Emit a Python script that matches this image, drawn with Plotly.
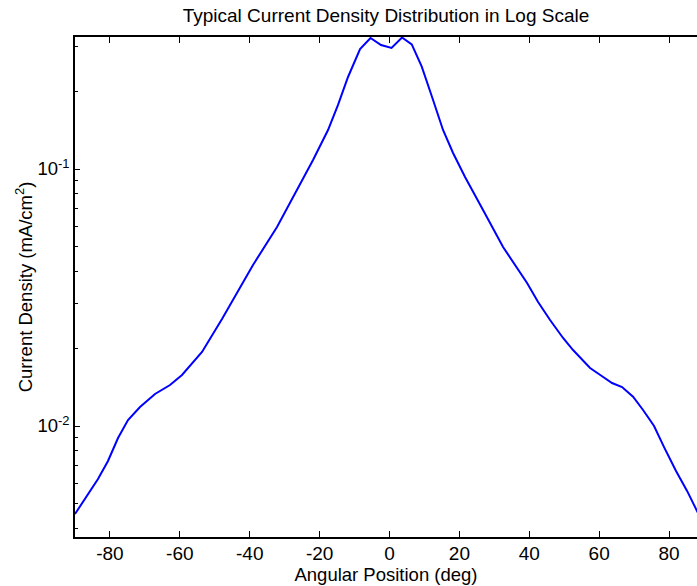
import plotly.graph_objects as go

# Angular position (deg) and current density (mA/cm^2)
angle_deg = [
    -90.0, -86.85, -83.42, -80.56, -77.69, -74.83, -71.40, -67.10, -62.81, -59.38,
    -53.65, -47.93, -43.64, -39.06, -32.19, -26.46, -21.88, -17.59, -14.73, -11.87,
    -8.43, -5.43, -2.42, 0.58, 3.59, 6.37, 9.23, 12.18, 15.32, 18.19,
    21.62, 26.77, 32.50, 39.37, 42.52, 45.95, 49.67, 52.53, 57.40, 60.74,
    63.69, 66.55, 69.70, 72.56, 75.71, 78.57, 82.00, 85.16, 88.02, 90.0,
]
current_density = [
    0.004546, 0.005293, 0.006218, 0.007307, 0.008981, 0.010551, 0.011856, 0.013323, 0.014437, 0.015794,
    0.019404, 0.026085, 0.032924, 0.042309, 0.059471, 0.082853, 0.10839, 0.14181, 0.17748, 0.22803,
    0.29296, 0.32337, 0.30384, 0.29575, 0.32486, 0.30518, 0.25009, 0.19064, 0.14181, 0.11543,
    0.09309, 0.06926, 0.04971, 0.03600, 0.03038, 0.02585, 0.02200, 0.01975, 0.01681, 0.01565,
    0.01470, 0.01418, 0.01300, 0.01154, 0.01000, 0.00828, 0.00668, 0.00559, 0.00463, 0.00412,
]

x_ticks = [-80, -60, -40, -20, 0, 20, 40, 60, 80]
x_tick_text = ["-80", "-60", "-40", "-20", "0", "20", "40", "60", "80"]
y_major = [0.01, 0.1]
y_major_text = ["10<sup>-2</sup>", "10<sup>-1</sup>"]
y_minor = [0.004, 0.005, 0.006, 0.007, 0.008, 0.009,
           0.02, 0.03, 0.04, 0.05, 0.06, 0.07, 0.08, 0.09,
           0.2, 0.3]

x_range = [-90, 88]
y_log_range = [-2.4319, -0.4864]

FONT = "Liberation Sans, Arial, Helvetica, sans-serif"

fig = go.Figure()
fig.add_trace(go.Scatter(
    x=angle_deg, y=current_density, mode="lines",
    line=dict(color="#0000FF", width=2), hoverinfo="skip", showlegend=False,
))
# empty trace so the minor-tick overlay axis is drawn
fig.add_trace(go.Scatter(x=[], y=[], yaxis="y2", showlegend=False, hoverinfo="skip"))

fig.update_layout(
    width=697, height=586,
    margin=dict(l=75, r=0, t=37, b=49),
    paper_bgcolor="white", plot_bgcolor="white",
    font=dict(family=FONT, size=18, color="black"),
    title=dict(text="Typical Current Density Distribution in Log Scale",
               x=0.5, xanchor="center", xref="paper", y=0.974, yanchor="middle",
               font=dict(size=19, color="black")),
    xaxis=dict(
        range=x_range, tickmode="array", tickvals=x_ticks, ticktext=x_tick_text,
        ticks="inside", ticklen=6, tickwidth=1, tickcolor="black",
        showline=True, linecolor="black", linewidth=1.5, mirror="ticks",
        showgrid=False, zeroline=False, ticklabelstandoff=-2,
        title=dict(text="Angular Position (deg)", standoff=2, font=dict(size=18.5)),
        tickfont=dict(size=19),
    ),
    yaxis=dict(
        type="log", range=y_log_range, tickmode="array",
        tickvals=y_major, ticktext=y_major_text,
        ticks="inside", ticklen=5, tickwidth=1, tickcolor="black",
        showline=True, linecolor="black", linewidth=1.5, mirror=False,
        showgrid=False, zeroline=False,
        title=dict(text="Current Density (mA/cm<sup>2</sup>)", standoff=0, font=dict(size=18.5)),
        tickfont=dict(size=18.5),
    ),
    yaxis2=dict(
        type="log", range=y_log_range, overlaying="y", anchor="x", side="left",
        tickmode="array", tickvals=y_minor, showticklabels=False,
        ticks="inside", ticklen=3, tickwidth=1, tickcolor="black",
        showline=False, showgrid=False, zeroline=False,
    ),
)

fig.write_html("out.html")
